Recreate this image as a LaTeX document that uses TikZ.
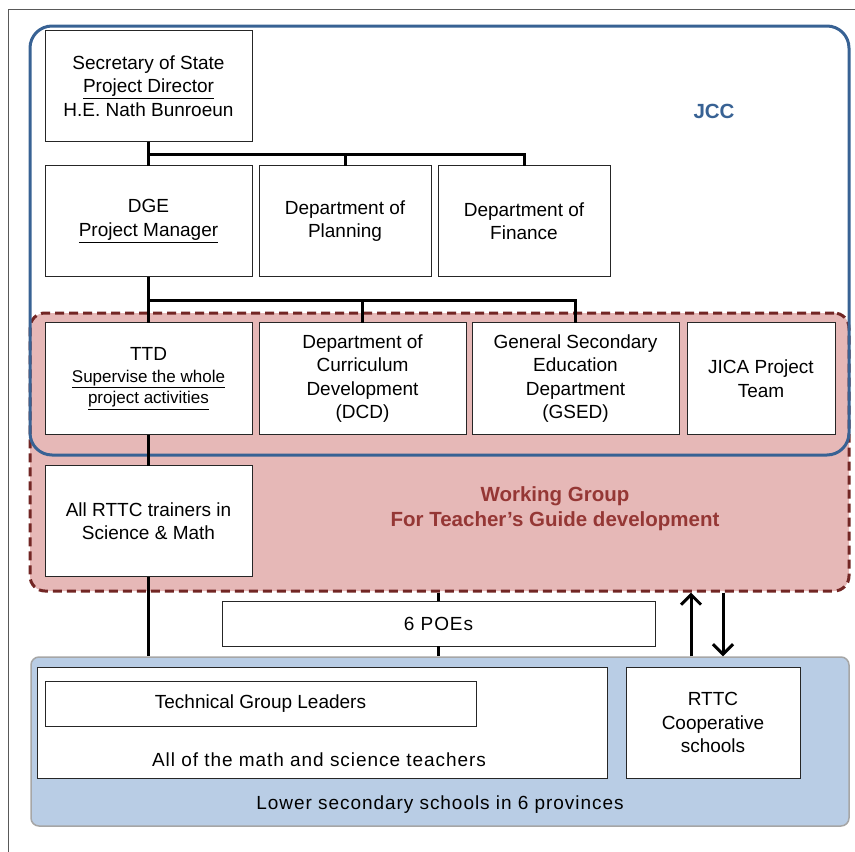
\documentclass[tikz,border=0pt]{standalone}
\usepackage{fontspec}
\setmainfont{Liberation Sans}
\newfontfamily\widefont[LetterSpace=5]{Liberation Sans}
\usetikzlibrary{positioning,arrows.meta}
\definecolor{jccblue}{RGB}{56,98,148}
\definecolor{wgfill}{RGB}{230,184,183}
\definecolor{wgline}{RGB}{114,38,36}
\definecolor{wgtext}{RGB}{149,55,53}
\definecolor{lowfill}{RGB}{185,205,229}
\newcommand{\subline}[1]{{\fontsize{17}{21}\selectfont\underline{#1}}}
\tikzset{
x=1pt, y=-1pt,
node distance=7pt,
>={Straight Barb[length=10pt,width=20pt]},
box/.style={draw=black!85, line width=1pt, fill=white, align=center, inner sep=0pt, outer sep=0pt,
  minimum width=207pt, minimum height=111pt, font=\fontsize{19}{23.5}\selectfont},
small/.style={box, minimum width=172pt},
thin/.style={box, minimum height=45pt},
link/.style={line width=3pt},
flow/.style={line width=3pt, ->},
jccbox/.style={draw=jccblue, line width=3pt, rounded corners=22pt, minimum width=819pt, minimum height=429pt},
wgbox/.style={draw=wgline, fill=wgfill, line width=3pt, dash pattern=on 9pt off 5pt, rounded corners=15pt, minimum width=819pt, minimum height=278pt},
lowbox/.style={draw=black!35, fill=lowfill, line width=1.5pt, rounded corners=8pt, minimum width=818pt, minimum height=169pt},
title/.style={align=center, font=\fontsize{20.5}{25}\selectfont\bfseries},
plain/.style={font=\fontsize{19}{23.5}\selectfont\widefont},
}

\begin{document}
\begin{tikzpicture}
    \useasboundingbox (0,0) rectangle (855,852);
    \draw[black!65, line width=1pt] (8,852) -- (8,9) -- (855,9);

    % regions
    \node[wgbox] (wg) at (439.5,452) {};
    \node[jccbox] (jcc) at (439.5,240.5) {};
    \node[lowbox] (lower) at (440,741.5) {};
    \node[title, text=jccblue] (jcctext) at (714,111) {JCC};
    \node[title, text=wgtext] (wgtext) at (555,509) {Working Group\\For Teacher's Guide development};
    \node[plain] (lowtext) at (440,805) {Lower secondary schools in 6 provinces};

    % ministry
    \node[box] (sec) at (148.5,86) {Secretary of State\\\underline{Project Director}\\H.E. Nath Bunroeun};
    \node[box, below=24pt of sec] (dge) {DGE\\\underline{Project Manager}};
    \node[small, right=of dge] (plan) {Department of\\Planning};
    \node[small, right=of plan] (fin) {Department of\\Finance};

    \node[box, minimum height=112pt, below=46pt of dge] (ttd) {TTD\\[-2pt]\subline{Supervise the whole}\\[-2pt]\subline{project activities}};
    \node[box, minimum height=112pt, right=of ttd] (dcd) {Department of\\Curriculum\\Development\\(DCD)};
    \node[box, minimum height=112pt, right=6pt of dcd] (gsed) {General Secondary\\Education\\Department\\(GSED)};
    \node[box, minimum height=112pt, minimum width=148pt, right=8pt of gsed] (jica) {JICA Project\\Team};
    \node[box, below=31pt of ttd] (trainers) {All RTTC trainers in\\Science \& Math};

    % schools
    \node[thin, minimum width=433pt] (poe) at (438.5,623.5) {\widefont 6 POEs};
    \node[box, minimum width=570pt] (teachers) at (322,722.5) {};
    \node[thin, minimum width=431pt] (tgl) at (260.5,703.5) {Technical Group Leaders};
    \node[plain] (teachtext) at (319,760) {All of the math and science teachers};
    \node[box, minimum width=174pt, right=19pt of teachers] (coop) {RTTC\\Cooperative\\schools};

    % connectors
    \coordinate (bus1) at (0,154);
    \coordinate (bus2) at (0,300);
    \coordinate (upx) at (691,0);
    \coordinate (dnx) at (723,0);
    \draw[link] (sec) -- (dge);
    \draw[link] (sec.south |- bus1) -| (fin.north);
    \draw[link] (plan.north |- bus1) -- (plan.north);
    \draw[link] (dge) -- (ttd);
    \draw[link] (dge.south |- bus2) -| (gsed.north);
    \draw[link] (dcd.north |- bus2) -- (dcd.north);
    \draw[link] (ttd) -- (trainers);
    \draw[link] (trainers.south) -- (trainers.south |- lower.north);
    \draw[link] (poe.north |- wg.south) -- (poe.north);
    \draw[link] (poe.south) -- (poe.south |- lower.north);
    \draw[flow] (lower.north -| upx) -- (wg.south -| upx);
    \draw[flow] (wg.south -| dnx) -- (lower.north -| dnx);

\end{tikzpicture}
\end{document}
